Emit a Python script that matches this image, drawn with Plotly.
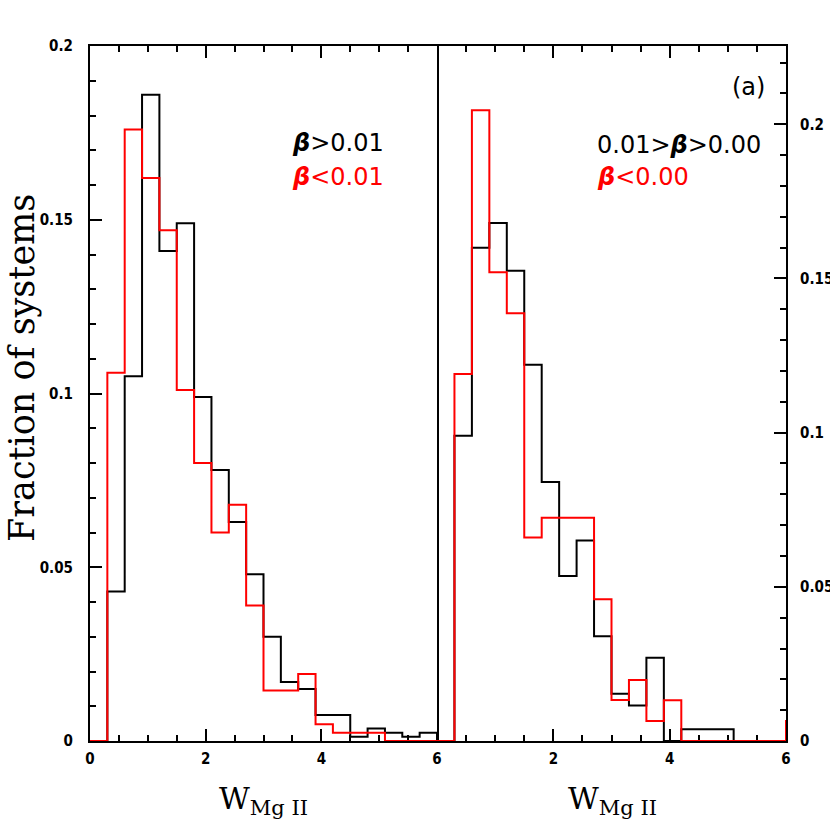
import plotly.graph_objects as go

# Bin edges (W_MgII), 0.3 wide
bin_edges = [0.0, 0.3, 0.6, 0.9, 1.2, 1.5, 1.8, 2.1, 2.4, 2.7, 3.0, 3.3, 3.6,
             3.9, 4.2, 4.5, 4.8, 5.1, 5.4, 5.7, 6.0, 6.3]

# Left panel: beta > 0.01 (black), beta < 0.01 (red)
left_black = [0, 0.043, 0.105, 0.186, 0.141, 0.149, 0.099, 0.078, 0.063, 0.048,
              0.030, 0.017, 0.015, 0.0075, 0.0075, 0.0012, 0.0036, 0.0024, 0.0012, 0.0024, 0]
left_red = [0, 0.106, 0.176, 0.162, 0.147, 0.101, 0.080, 0.060, 0.068, 0.039,
            0.0145, 0.0145, 0.0193, 0.0048, 0.0024, 0.0024, 0.0024, 0, 0, 0, 0]

# Right panel: 0.01 > beta > 0.00 (black), beta < 0.00 (red)
right_black = [0, 0.099, 0.160, 0.168, 0.1525, 0.122, 0.084, 0.0535, 0.065, 0.034,
               0.0153, 0.0115, 0.027, 0, 0.0038, 0.0038, 0.0038, 0, 0, 0, 0]
right_red = [0, 0.119, 0.2046, 0.152, 0.1387, 0.066, 0.0724, 0.0724, 0.0724, 0.046,
             0.0133, 0.0198, 0.0065, 0.0132, 0, 0, 0, 0, 0, 0, 0.0065]

x_major_left = [0, 2, 4, 6]
x_major_left_text = ["0", "2", "4", "6"]
x_major_right = [2, 4, 6]
x_major_right_text = ["2", "4", "6"]
y_major = [0, 0.05, 0.1, 0.15, 0.2]
y_major_text = ["0", "0.05", "0.1", "0.15", "0.2"]

legend_left = ["<b><i>β</i></b>&gt;0.01", "<b><i>β</i></b>&lt;0.01"]
legend_right = ["0.01&gt;<b><i>β</i></b>&gt;0.00", "<b><i>β</i></b>&lt;0.00"]


def step_xy(vals):
    xs = list(bin_edges[:len(vals)]) + [bin_edges[len(vals)]]
    ys = list(vals) + [vals[-1]]
    return xs, ys


W, H = 830, 830
px = lambda v: v / W
py = lambda v: (H - v) / H

fig = go.Figure()
for vals, color, xa, ya in [
    (left_black, "black", "x", "y"),
    (left_red, "#ff0000", "x", "y"),
    (right_black, "black", "x2", "y2"),
    (right_red, "#ff0000", "x2", "y2"),
]:
    xs, ys = step_xy(vals)
    fig.add_trace(go.Scatter(x=xs, y=ys, mode="lines", line=dict(color=color, width=2, shape="hv"),
                             xaxis=xa, yaxis=ya, showlegend=False, hoverinfo="skip"))

tickfont = dict(family="DejaVu Sans Condensed, DejaVu Sans", size=15, color="black", weight="bold")
minor_x = [i * 0.5 for i in range(13)]
minor_y = [i * 0.01 for i in range(23)]

common_x = dict(range=[0, 6], showgrid=False, zeroline=False, showline=True, linecolor="black",
                linewidth=2, mirror="ticks", ticks="inside", ticklen=12, tickwidth=1.5,
                tickcolor="black", tickmode="array", tickfont=tickfont, layer="below traces",
                ticklabelstandoff=3, automargin=False,
                minor=dict(tickmode="array", tickvals=minor_x, ticks="inside", ticklen=6,
                           tickwidth=1.5, tickcolor="black", showgrid=False))
common_y = dict(showgrid=False, zeroline=False, showline=True, linecolor="black", linewidth=2,
                ticks="inside", ticklen=12, tickwidth=1.5, tickcolor="black",
                tickmode="array", tickvals=y_major, ticktext=y_major_text, tickfont=tickfont,
                layer="below traces", automargin=False,
                minor=dict(tickmode="array", tickvals=minor_y, ticks="inside", ticklen=6,
                           tickwidth=1.5, tickcolor="black", showgrid=False))

fig.update_layout(
    width=W, height=H, margin=dict(l=0, r=0, t=0, b=0, autoexpand=False),
    paper_bgcolor="white", plot_bgcolor="white",
    xaxis=dict(domain=[px(90), px(437)], anchor="y", tickvals=x_major_left,
               ticktext=x_major_left_text, **common_x),
    yaxis=dict(domain=[py(741), py(46)], anchor="x", range=[0, 0.2], mirror=True,
               ticklabelstandoff=12, **common_y),
    xaxis2=dict(domain=[px(437), px(786)], anchor="y2", tickvals=x_major_right,
                ticktext=x_major_right_text, **common_x),
    yaxis2=dict(domain=[py(741), py(46)], anchor="x2", range=[0, 0.2254], side="right",
                mirror=False, ticklabelstandoff=9, **common_y),
)

serif = "DejaVu Serif"
sans = "DejaVu Sans"
ann = []
ann.append(dict(text="Fraction of systems", x=px(22), y=py(368), xref="paper", yref="paper",
                textangle=-90, showarrow=False, font=dict(family=serif, size=35, color="black"),
                xanchor="center", yanchor="middle"))
for cx in [263, 612]:
    ann.append(dict(text="W<sub>Mg II</sub>", x=px(cx), y=py(800), xref="paper", yref="paper",
                    showarrow=False, font=dict(family=serif, size=30, color="black"),
                    xanchor="center", yanchor="middle"))
ann.append(dict(text=legend_left[0], x=px(290), y=py(143), xref="paper", yref="paper",
                showarrow=False, font=dict(family=sans, size=24, color="black"),
                xanchor="left", yanchor="middle"))
ann.append(dict(text=legend_left[1], x=px(290), y=py(177), xref="paper", yref="paper",
                showarrow=False, font=dict(family=sans, size=24, color="#ff0000"),
                xanchor="left", yanchor="middle"))
ann.append(dict(text=legend_right[0], x=px(595), y=py(145), xref="paper", yref="paper",
                showarrow=False, font=dict(family=sans, size=24, color="black"),
                xanchor="left", yanchor="middle"))
ann.append(dict(text=legend_right[1], x=px(595), y=py(177), xref="paper", yref="paper",
                showarrow=False, font=dict(family=sans, size=24, color="#ff0000"),
                xanchor="left", yanchor="middle"))
ann.append(dict(text="(a)", x=px(748), y=py(87), xref="paper", yref="paper",
                showarrow=False, font=dict(family=sans, size=24, color="black"),
                xanchor="center", yanchor="middle"))
fig.update_layout(annotations=ann)

fig.write_html("out.html", config={"displayModeBar": False},
               post_script="document.body.style.margin='0';document.body.style.padding='0';")
